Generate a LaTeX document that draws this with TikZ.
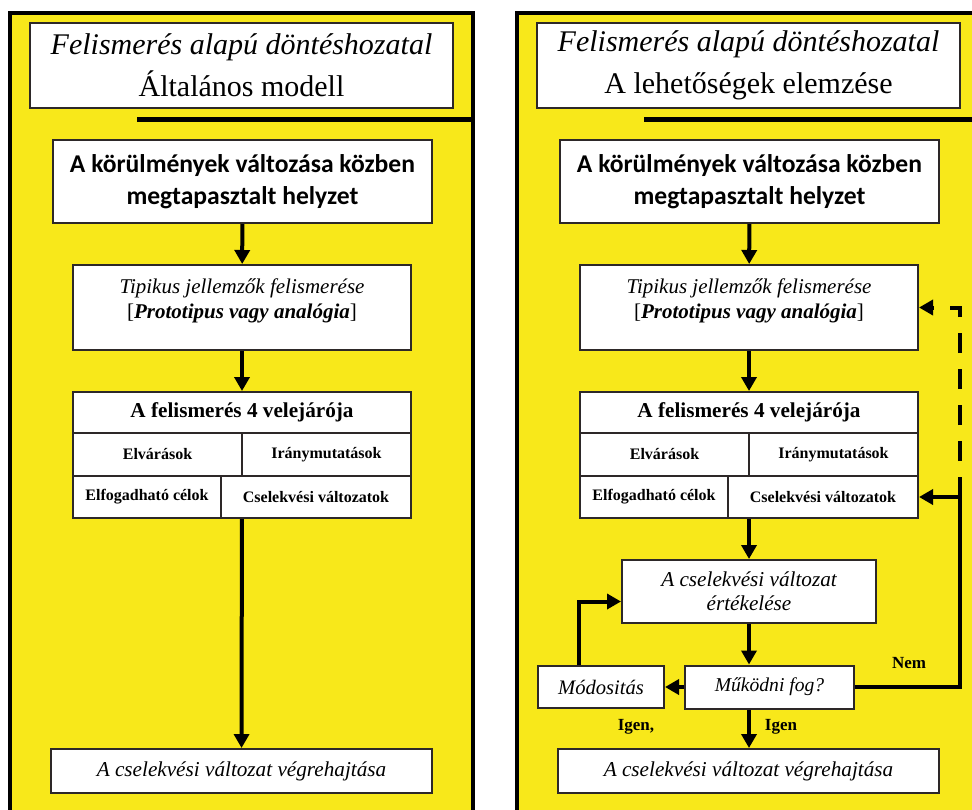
\documentclass[tikz,border=0pt]{standalone}
\usepackage{fontspec}
\setmainfont{Liberation Serif}
\newfontfamily\calibri{Carlito}
\usetikzlibrary{arrows.meta}

\definecolor{panelyellow}{RGB}{248,232,26}
\definecolor{boxline}{RGB}{45,40,40}

\tikzset{
  box/.style={draw=boxline, line width=1pt, fill=white, align=center, inner sep=0pt},
  dims/.style 2 args={minimum width=#1*0.5pt, minimum height=#2*0.5pt},
  flow/.style={line width=2pt, -{Triangle[length=7pt,width=7.5pt]}},
  cell/.style={box, font=\fontsize{8}{10}\selectfont\bfseries},
  answer/.style={font=\fontsize{8.5}{10}\selectfont\bfseries, inner sep=0pt},
}

\begin{document}
\begin{tikzpicture}[x=0.5pt, y=-0.5pt]
  \clip (0,0) rectangle (972,809); % page = 972x809 px
  \foreach \p/\dx/\sub in {l/0/{Általános modell}, r/507/{A lehetőségek elemzése}} {
    \begin{scope}[xshift=\dx*0.5pt]
      % panel
      \fill[panelyellow] (10,13) rectangle (473,820);
      \draw[line width=1.75pt] (10,820) |- (473,13) -- (473,820);
      \draw[line width=2.5pt] (137,119.5) -- (473,119.5);
      \node[box, dims={423}{85}, font=\fontsize{15}{21}\selectfont] (\p-title) at (241.5,65.5)
        {\textit{Felismerés alapú döntéshozatal}\\\sub};
      \node[box, dims={379}{83}, font=\fontsize{12.8}{16}\selectfont\calibri\bfseries] (\p-sit) at (242.5,181.5)
        {A körülmények változása közben\\megtapasztalt helyzet};
      \node[box, dims={338}{85},
        label={[align=center, yshift=3.5pt, font=\fontsize{10.5}{12.5}\selectfont]center:{\textit{Tipikus jellemzők felismerése}\\{}[\textbf{\textit{Prototipus vagy analógia}}]}}]
        (\p-typ) at (242,307.5) {};
      % the 4 concomitants
      \node[box, dims={338}{126}] (\p-four) at (242,455) {};
      \node[box, dims={338}{41}, font=\fontsize{10.6}{13}\selectfont\bfseries] (\p-head) at (242,412.5)
        {A felismerés 4 velejárója};
      \node[cell, dims={169}{43}] (\p-elv) at (157.5,454.5) {Elvárások};
      \node[cell, dims={169}{43}] (\p-ir) at (326.5,454.5) {Iránymutatások};
      \node[cell, dims={148}{42}] (\p-elf) at (147,497) {Elfogadható célok};
      \node[cell, dims={190}{42}] (\p-cv) at (316,497) {Cselekvési változatok};
      \node[box, dims={381}{44}, font=\fontsize{10.6}{13}\selectfont\itshape] (\p-final) at (241.5,771)
        {A cselekvési változat végrehajtása};
      \draw[flow] (\p-sit) -- (\p-typ);
      \draw[flow] (\p-typ) -- (\p-four);
    \end{scope}
  }

  % left: straight to execution
  \draw[flow] (l-four) -- (l-final);

  % right: evaluation loop
  \node[box, dims={254}{63}, font=\fontsize{10.6}{12}\selectfont\itshape] (r-eval) at (749,591.5)
    {A cselekvési változat\\értékelése};
  \node[box, dims={169}{43}, font=\fontsize{9.8}{12}\selectfont\itshape] (r-work) at (769.5,687)
    {Működni fog?};
  \node[box, dims={126}{42}, font=\fontsize{10.3}{12}\selectfont\itshape] (r-mod) at (601,687)
    {Módositás};
  \coordinate (r-back) at (960,497);
  \node[answer] (r-nem) at (909,663) {Nem};
  \node[answer] (r-igen) at (781,727) {Igen};
  \node[answer] (r-igen2) at (636,727) {Igen,};

  \draw[flow] (r-four) -- (r-eval);
  \draw[flow] (r-eval) -- (r-eval |- r-work.north);
  \draw[flow] (r-work.south -| r-eval) -- (r-final.north -| r-eval);
  \draw[flow] (r-work) -- (r-mod);
  \draw[flow] ([xshift=-11pt]r-mod.north) |- ([yshift=-5pt]r-eval.west);
  \draw[line width=2pt] (r-work) -| (r-back);
  \draw[flow] (r-back) -- (r-cv);
  \draw[flow, dash pattern=on 10pt off 8pt] (r-back) |- (r-typ);
\end{tikzpicture}
\end{document}
